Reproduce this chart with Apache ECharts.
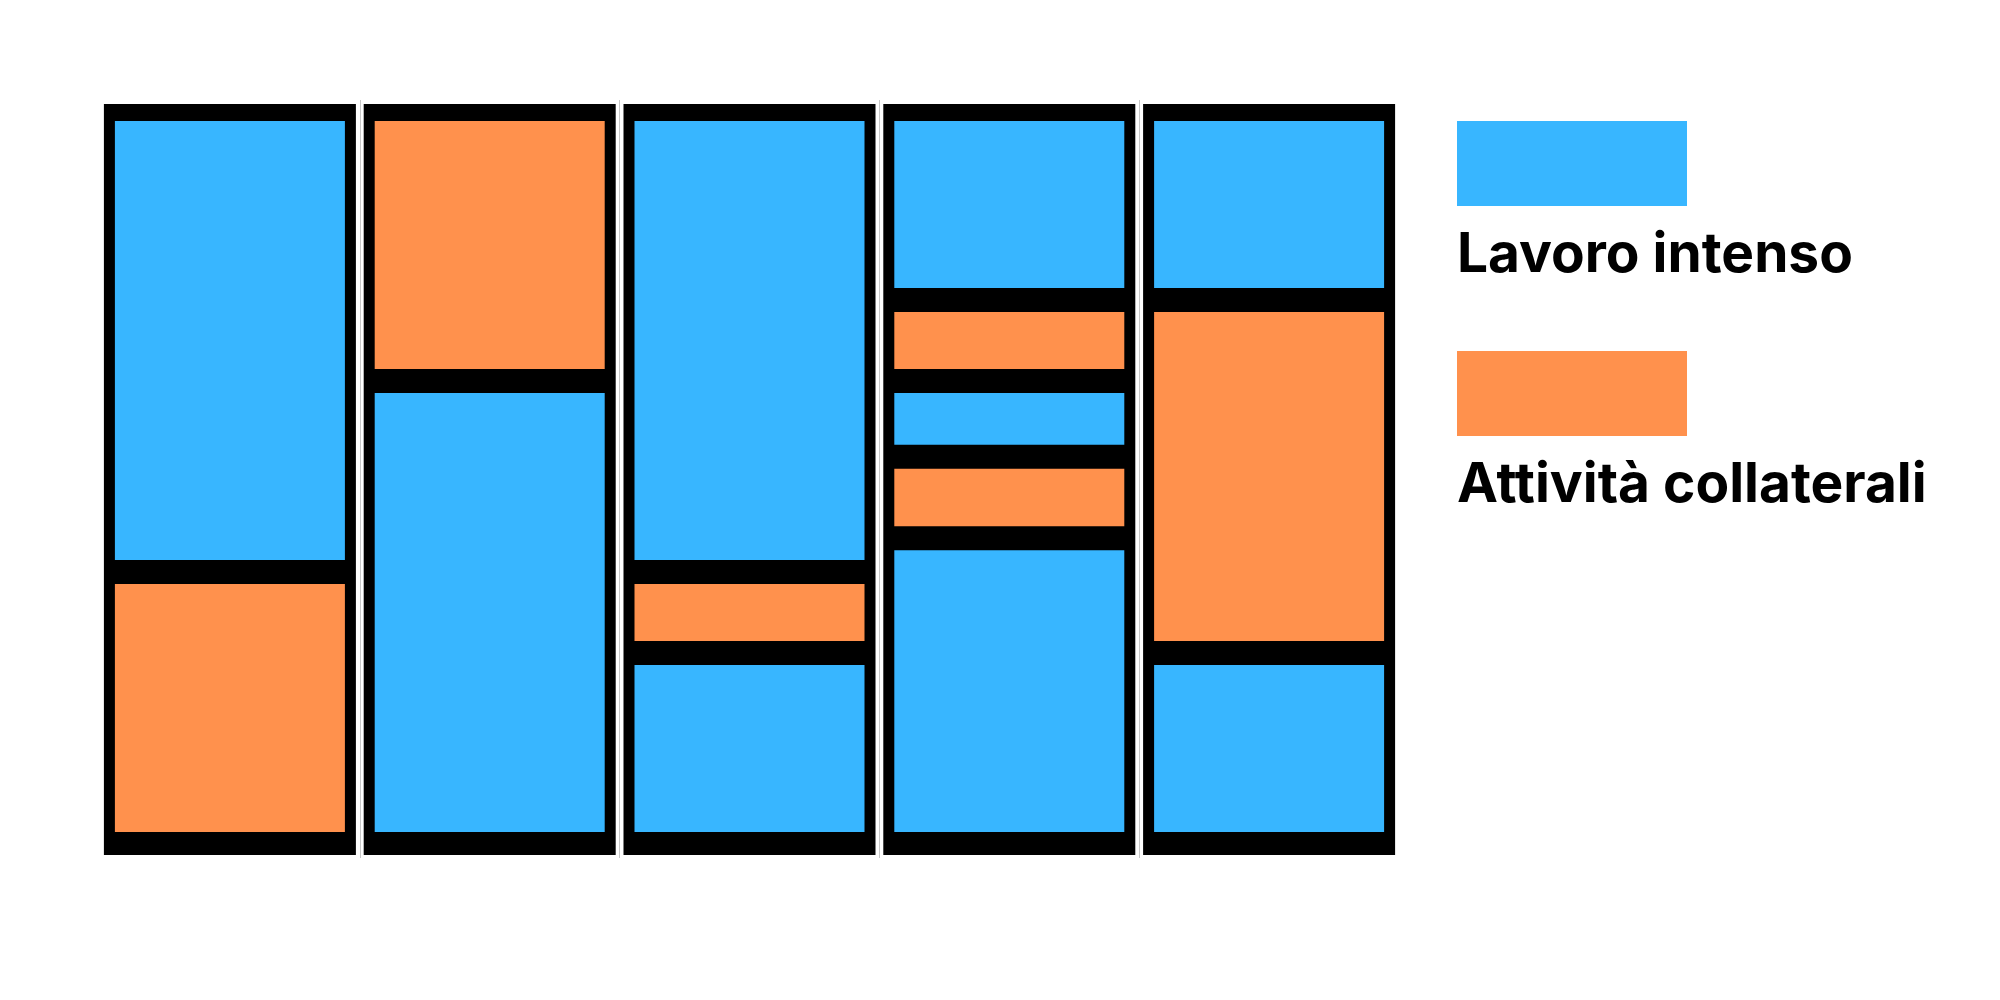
<!DOCTYPE html>
<html>
<head>
<meta charset="utf-8">
<style>
  html, body { margin: 0; padding: 0; background: #ffffff; }
  #chart { width: 2000px; height: 1000px; }
</style>
<script src="https://cdn.jsdelivr.net/npm/echarts@6/dist/echarts.min.js"></script>
</head>
<body>
<div id="chart"></div>
<script>
// ---- data ----
const categories = ['1', '2', '3', '4', '5'];
const seriesNames = ['Lavoro intenso', 'Attività collaterali'];
const seriesColors = ['#38B6FF', '#FF914D'];
// segments listed column by column, from bottom to top
const segmentColumn = [0, 0, 1, 1, 2, 2, 2, 3, 3, 3, 3, 3, 4, 4, 4];
const segmentSeries = [1, 0, 0, 1, 0, 1, 0, 0, 1, 0, 1, 0, 0, 1, 0];
const segmentValue  = [37, 63, 63, 37, 26, 11, 63, 41.6, 11.1, 10.3, 11, 26, 26, 48, 26];

// ---- build stacked segment data ----
const totals = categories.map(() => 0);
const seriesData = seriesNames.map(() => []);
segmentValue.forEach((v, i) => {
  const c = segmentColumn[i];
  const start = totals[c];
  const end = start + v;
  totals[c] = end;
  seriesData[segmentSeries[i]].push([c, start, end]);
});
const frameData = totals.map((t, c) => [c, t]);

function renderFrame(params, api) {
  const c = api.value(0);
  const x = api.coord([c, 0])[0];
  const yTop = api.coord([c, api.value(1)])[1] - 5;
  const yBottom = api.coord([c, 0])[1] + 11;
  return {
    type: 'rect',
    shape: { x: x - 126, y: yTop, width: 252, height: yBottom - yTop },
    style: { fill: '#000000' }
  };
}

function renderSegment(params, api) {
  const c = api.value(0);
  const x = api.coord([c, 0])[0];
  const yStart = api.coord([c, api.value(1)])[1];
  const yEnd = api.coord([c, api.value(2)])[1];
  const gap = 12;
  return {
    type: 'rect',
    shape: { x: x - 115, y: yEnd + gap, width: 230, height: (yStart - gap) - (yEnd + gap) },
    style: { fill: api.visual('color') }
  };
}

const legendTops = [121, 351];
const legends = seriesNames.map((name, s) => ({
  data: [name],
  orient: 'vertical',
  left: 1457,
  top: legendTops[s],
  padding: 0,
  icon: 'rect',
  itemWidth: 230,
  itemHeight: 85,
  selectedMode: false,
  formatter: (n) => '{gap| }\n{t|' + n + '}',
  textStyle: {
    color: '#000000',
    padding: [0, 0, 0, -235],
    rich: {
      gap: { fontSize: 8, lineHeight: 184 },
      t: { fontFamily: 'Inter', fontWeight: 'bold', fontSize: 55, lineHeight: 60, color: '#000000' }
    }
  }
}));

const chart = echarts.init(document.getElementById('chart'), null, { renderer: 'canvas' });
chart.setOption({
  animation: false,
  backgroundColor: '#ffffff',
  grid: { left: 100, right: 601, top: 100, bottom: 142 },
  xAxis: {
    type: 'category',
    data: categories,
    axisLine: { show: false },
    axisTick: { show: false },
    axisLabel: { show: false },
    splitLine: { show: true, showMinLine: false, showMaxLine: false, lineStyle: { color: '#c8c8c8', width: 1 } }
  },
  yAxis: {
    type: 'value',
    min: -1.905,
    max: 101.224,
    axisLine: { show: false },
    axisTick: { show: false },
    axisLabel: { show: false },
    splitLine: { show: false }
  },
  legend: legends,
  series: [
    {
      name: 'frame',
      type: 'custom',
      silent: true,
      z: 1,
      renderItem: renderFrame,
      data: frameData
    },
    ...seriesNames.map((name, s) => ({
      name: name,
      type: 'custom',
      z: 2,
      itemStyle: { color: seriesColors[s] },
      renderItem: renderSegment,
      data: seriesData[s]
    }))
  ]
});
</script>
</body>
</html>
